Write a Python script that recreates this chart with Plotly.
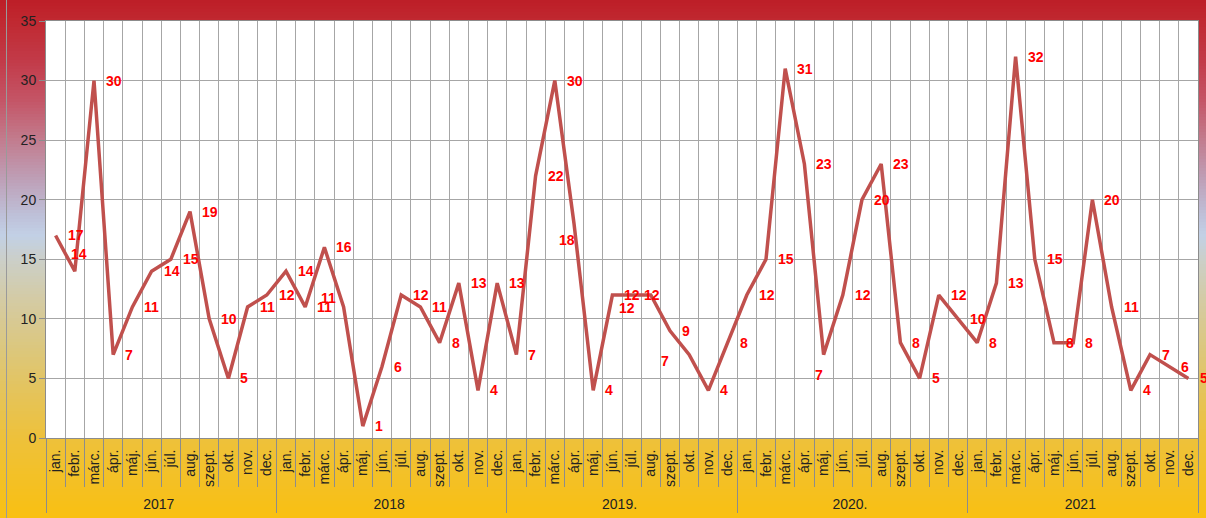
import plotly.graph_objects as go

# ---------------- data ----------------
year_names = ["2017", "2018", "2019.", "2020.", "2021"]
month_names = ["jan.", "febr.", "márc.", "ápr.", "máj.", "jún.",
               "júl.", "aug.", "szept.", "okt.", "nov.", "dec."]
values = [
    17, 14, 30, 7, 11, 14, 15, 19, 10, 5, 11, 12,     # 2017
    14, 11, 16, 11, 1, 6, 12, 11, 8, 13, 4, 13,       # 2018
    7, 22, 30, 18, 4, 12, 12, 12, 9, 7, 4, 8,         # 2019
    12, 15, 31, 23, 7, 12, 20, 23, 8, 5, 12, 10,      # 2020
    8, 13, 32, 15, 8, 8, 20, 11, 4, 7, 6, 5,          # 2021
]
y_ticks = [0, 5, 10, 15, 20, 25, 30, 35]

# ---------------- layout geometry / styles ----------------
W, H = 1206, 518
ML, MR, MT, MB = 46, 8, 21, 80
PW, PH = W - ML - MR, H - MT - MB

x_years = [y for y in year_names for _ in month_names]
x_months = [m for _ in year_names for m in month_names]
n_cat = len(x_months)

# label offset exceptions (center-anchored shifts in px)
label_moves = {1: (4, 17), 15: (-15, 9), 27: (-7, -16), 31: (-24, -13),
               33: (-24, -6), 40: (-5, -20)}


def px2py(p):
    return (H - MB - p) / PH


def px2px(p):
    return (p - ML) / PW


stops = [(0, (189, 30, 39)), (20, (192, 40, 48)), (60, (194, 58, 72)),
         (100, (196, 85, 102)), (140, (194, 124, 142)), (180, (190, 160, 184)),
         (215, (190, 192, 216)), (235, (194, 208, 230)), (260, (203, 207, 200)),
         (300, (212, 203, 164)), (350, (220, 199, 124)), (400, (230, 195, 85)),
         (440, (238, 193, 58)), (518, (249, 192, 17))]


def grad(p):
    for (p0, c0), (p1, c1) in zip(stops[:-1], stops[1:]):
        if p0 <= p <= p1:
            t = (p - p0) / (p1 - p0)
            c = [round(a + (b - a) * t) for a, b in zip(c0, c1)]
            return "rgb(%d,%d,%d)" % tuple(c)
    return "rgb(%d,%d,%d)" % stops[-1][1]


shapes = []
step = 3
for p in range(0, H, step):
    shapes.append(dict(type="rect", xref="paper", yref="paper", layer="below",
                       x0=px2px(0), x1=px2px(W), y0=px2py(p + step), y1=px2py(p),
                       fillcolor=grad(p + step / 2), line=dict(width=0)))
shapes.append(dict(type="rect", xref="paper", yref="paper", layer="below",
                   x0=0, x1=1, y0=0, y1=1, fillcolor="white", line=dict(width=0)))
shapes.append(dict(type="line", xref="paper", yref="paper", layer="above",
                   x0=px2px(6.5), x1=px2px(6.5), y0=px2py(H), y1=px2py(0),
                   line=dict(color="#9a9a9a", width=1)))

fig = go.Figure()
fig.add_trace(go.Scatter(
    x=[x_years, x_months], y=values, mode="lines",
    line=dict(color="#C0504D", width=3.5), hoverinfo="skip", showlegend=False))

annotations = []
for i, v in enumerate(values):
    if i in label_moves:
        dx, dy = label_moves[i]
        annotations.append(dict(x=i, y=v, xref="x", yref="y", text=str(v),
                                showarrow=False, xanchor="center", yanchor="middle",
                                xshift=dx, yshift=dy,
                                font=dict(family="Liberation Sans", size=14,
                                          color="#FF0000", weight="bold")))
    else:
        annotations.append(dict(x=i, y=v, xref="x", yref="y", text=str(v),
                                showarrow=False, xanchor="left", yanchor="middle",
                                xshift=10,
                                font=dict(family="Liberation Sans", size=14,
                                          color="#FF0000", weight="bold")))

grid = "#A6A6A6"
fig.update_layout(
    width=W, height=H,
    margin=dict(l=ML, r=MR, t=MT, b=MB, autoexpand=False),
    paper_bgcolor="#F8C010", plot_bgcolor="white",
    shapes=shapes, annotations=annotations,
    font=dict(family="Liberation Sans", size=14, color="#222222"),
    xaxis=dict(type="multicategory", range=[-0.5, n_cat - 0.5],
               showgrid=True, gridcolor=grid, gridwidth=1,
               tickson="boundaries", ticks="outside", ticklen=48, tickcolor="#8c8c8c",
               showdividers=True, dividercolor="#8c8c8c", dividerwidth=1,
               tickangle=-90, tickfont=dict(size=14, color="#222222"),
               ticklabelstandoff=5,
               showline=True, linecolor="#8c8c8c", mirror=True, automargin=False),
    yaxis=dict(range=[0, 35], tickvals=y_ticks, showgrid=True, gridcolor=grid,
               ticks="outside", ticklen=6, tickcolor="#8c8c8c",
               showline=True, linecolor="#8c8c8c", mirror=True, automargin=False,
               tickfont=dict(size=14, color="#222222"), zeroline=False),
)

fig.write_html("out.html", config={"displayModeBar": False},
               post_script="document.body.style.margin='0';"
                           "document.body.style.overflow='hidden';")
